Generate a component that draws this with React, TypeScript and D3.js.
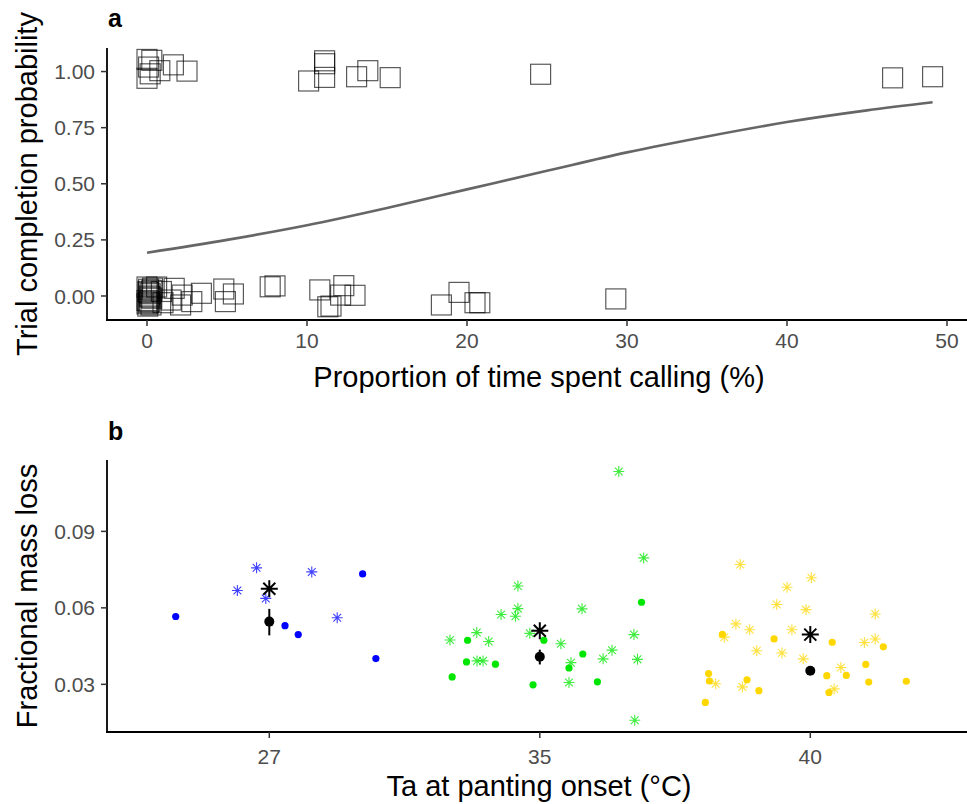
import * as d3 from "d3";
import React from "react";

// panel a: trials, [proportion of time calling (%), completion (jittered)]
const completedTrials: [number, number][] = [
  [0, 1.054], [0, 0.97], [0.3, 1.05], [0.8, 1.004], [1.65, 1.03], [2.5, 1.002],
  [0.1, 1.02], [0.2, 0.99], [10.1, 0.958], [11.1, 1.048], [11.1, 1.035],
  [11.1, 0.974], [13.1, 0.977], [13.8, 1.004], [15.2, 0.973], [24.6, 0.988],
  [46.6, 0.972], [49.1, 0.977],
];
const failedTrials: [number, number][] = [
  [0, 0.04], [0.1, 0.03], [0.05, 0.02], [0.2, 0.01], [0.15, 0], [0.3, -0.01],
  [0, -0.02], [0.1, -0.03], [0.25, -0.04], [0.05, -0.045], [0.35, 0.035],
  [0.2, -0.005], [0.1, 0.015], [0, -0.035], [0.3, 0.025], [0.15, -0.025],
  [0.6, 0.04], [0.9, 0.02], [1.0, -0.03], [1.7, 0.034], [1.5, -0.018],
  [2.2, 0.004], [2.1, -0.04], [2.8, -0.025], [3.4, 0.012], [4.8, 0.031],
  [4.9, -0.025], [5.4, 0.009], [7.7, 0.041], [8.0, 0.045], [10.8, 0.027],
  [12.3, 0.046], [12.1, 0.004], [13.0, 0.003], [11.3, -0.048], [11.5, -0.045],
  [18.4, -0.04], [19.5, 0.016], [20.5, -0.03], [20.8, -0.03], [29.3, -0.013],
];
// fitted probability curve
const fitX = [0, 5, 10, 15, 20, 25, 30, 35, 40, 45, 49.1];
const fitY = [0.193, 0.25, 0.315, 0.392, 0.475, 0.558, 0.64, 0.711, 0.775, 0.827, 0.863];
const xTicksA = [0, 10, 20, 30, 40, 50];
const yTicksA = [0, 0.25, 0.5, 0.75, 1];

// panel b: [jitter within category, fractional mass loss]
const temps = ["27", "35", "40"];
const groupColors = ["#0000ff", "#00e600", "#ffd700"];
const dots27: [number, number][] = [
  [-0.346, 0.0566], [0.058, 0.053], [0.107, 0.0495], [0.345, 0.0733], [0.394, 0.0401],
];
const stars27: [number, number][] = [
  [-0.047, 0.0757], [-0.118, 0.0668], [-0.013, 0.0637], [0.157, 0.0741], [0.251, 0.0561],
];
const dots35: [number, number][] = [
  [-0.267, 0.0473], [-0.271, 0.0388], [-0.324, 0.0329], [-0.164, 0.0379], [0.015, 0.0473],
  [-0.025, 0.0298], [0.108, 0.0364], [0.159, 0.0419], [0.213, 0.031], [0.376, 0.0622],
];
const stars35: [number, number][] = [
  [-0.332, 0.0474], [-0.233, 0.0503], [-0.189, 0.0468], [-0.232, 0.0392], [-0.21, 0.0392],
  [-0.143, 0.0574], [-0.081, 0.0686], [-0.081, 0.0597], [-0.09, 0.0567], [-0.037, 0.05],
  [0.078, 0.0459], [0.115, 0.0385], [0.108, 0.0307], [0.156, 0.0596], [0.234, 0.04],
  [0.267, 0.0434], [0.348, 0.0495], [0.361, 0.0398], [0.351, 0.0159], [0.292, 0.1135],
  [0.384, 0.0796],
];
const dots40: [number, number][] = [
  [-0.325, 0.0496], [-0.376, 0.0342], [-0.373, 0.0313], [-0.388, 0.0229], [-0.234, 0.0318],
  [-0.19, 0.0275], [-0.134, 0.0478], [0.081, 0.0465], [0.061, 0.0334], [0.069, 0.0268],
  [0.133, 0.0335], [0.205, 0.0378], [0.216, 0.0309], [0.27, 0.0447], [0.355, 0.0312],
];
const stars40: [number, number][] = [
  [-0.259, 0.077], [0.004, 0.0718], [-0.086, 0.0681], [-0.124, 0.0613], [-0.016, 0.0593],
  [0.24, 0.0576], [-0.275, 0.0537], [-0.224, 0.0514], [-0.068, 0.0514], [-0.318, 0.0485],
  [0.24, 0.0478], [0.2, 0.0464], [-0.198, 0.0432], [-0.105, 0.0423], [-0.026, 0.04],
  [0.113, 0.0366], [-0.35, 0.0302], [-0.251, 0.029], [0.088, 0.0282],
];
const meanStars = [0.0675, 0.051, 0.0495];
const meanDots = [0.0546, 0.0408, 0.0353];
const meanLow = [0.0492, 0.0378, 0.0338];
const meanHigh = [0.0596, 0.0436, 0.0368];
const yTicksB = [0.03, 0.06, 0.09];

const font = "'Liberation Sans', Arial, sans-serif";
const tickColor = "#4d4d4d";

const asterisk = (r: number) =>
  `M0,${-r}V${r}M${-r},0H${r}M${-r * 0.707},${-r * 0.707}L${r * 0.707},${r * 0.707}M${-r * 0.707},${r * 0.707}L${r * 0.707},${-r * 0.707}`;

export default function App() {
  const width = 967;
  const height = 804;

  // panel a scales
  const xA = d3.scaleLinear().domain([-2.5, 51.75]).range([107, 975]);
  const yA = d3.scaleLinear().domain([-0.107, 1.105]).range([320, 48]);
  const fitLine = d3
    .line<number>()
    .x((d, i) => xA(fitX[i]))
    .y((d) => yA(d))
    .curve(d3.curveMonotoneX);

  // panel b scales
  const xB = d3.scalePoint().domain(temps).range([107, 972.6]).padding(0.6);
  const yB = d3.scaleLinear().domain([0.0113, 0.118]).range([732, 460]);
  const step = xB.step();
  const dots = [dots27, dots35, dots40];
  const stars = [stars27, stars35, stars40];

  const sq = 20;

  return (
    <div style={{ position: "absolute", left: 0, top: 0 }}>
      <svg width={width} height={height} style={{ display: "block", background: "#fff" }} fontFamily={font}>
        {/* ---------- panel a ---------- */}
        <text x={108} y={27} fontSize={25} fontWeight="bold">a</text>
        {[...completedTrials, ...failedTrials].map((d, i) => (
          <rect
            key={"s" + i}
            x={xA(d[0]) - sq / 2}
            y={yA(d[1]) - sq / 2}
            width={sq}
            height={sq}
            fill="none"
            stroke="#000"
            strokeOpacity={0.65}
            strokeWidth={1.2}
          />
        ))}
        <path d={fitLine(fitY) || ""} fill="none" stroke="#666" strokeWidth={2.6} />
        <line x1={107} x2={107} y1={48} y2={321} stroke="#000" strokeWidth={1.8} />
        <line x1={106} x2={975} y1={320} y2={320} stroke="#000" strokeWidth={1.8} />
        {yTicksA.map((t) => (
          <g key={"ya" + t}>
            <line x1={101} x2={107} y1={yA(t)} y2={yA(t)} stroke="#333" strokeWidth={1.5} />
            <text x={95} y={yA(t)} dy="0.36em" textAnchor="end" fontSize={21} fill={tickColor}>
              {d3.format(".2f")(t)}
            </text>
          </g>
        ))}
        {xTicksA.map((t) => (
          <g key={"xa" + t}>
            <line x1={xA(t)} x2={xA(t)} y1={320} y2={326} stroke="#333" strokeWidth={1.5} />
            <text x={xA(t)} y={348} textAnchor="middle" fontSize={21} fill={tickColor}>{t}</text>
          </g>
        ))}
        <text x={539} y={387} textAnchor="middle" fontSize={29}>Proportion of time spent calling (%)</text>
        <text transform="translate(37,184) rotate(-90)" textAnchor="middle" fontSize={29}>
          Trial completion probability
        </text>

        {/* ---------- panel b ---------- */}
        <text x={108} y={440} fontSize={25} fontWeight="bold">b</text>
        {temps.map((c, g) => (
          <g key={"grp" + c}>
            {stars[g].map((d, i) => (
              <path
                key={"st" + i}
                d={asterisk(5.5)}
                transform={`translate(${(xB(c) as number) + d[0] * step},${yB(d[1])})`}
                stroke={groupColors[g]}
                strokeOpacity={0.75}
                strokeWidth={1.1}
                fill="none"
              />
            ))}
            {dots[g].map((d, i) => (
              <circle
                key={"dt" + i}
                cx={(xB(c) as number) + d[0] * step}
                cy={yB(d[1])}
                r={3.6}
                fill={groupColors[g]}
              />
            ))}
          </g>
        ))}
        {temps.map((c, g) => (
          <g key={"mean" + c}>
            <line
              x1={xB(c) as number}
              x2={xB(c) as number}
              y1={yB(meanLow[g])}
              y2={yB(meanHigh[g])}
              stroke="#000"
              strokeWidth={2}
            />
            <circle cx={xB(c) as number} cy={yB(meanDots[g])} r={5} fill="#000" />
            <path
              d={asterisk(8.5)}
              transform={`translate(${xB(c) as number},${yB(meanStars[g])})`}
              stroke="#000"
              strokeWidth={2}
              fill="none"
            />
          </g>
        ))}
        <line x1={107} x2={107} y1={460} y2={733} stroke="#000" strokeWidth={1.8} />
        <line x1={106} x2={975} y1={732} y2={732} stroke="#000" strokeWidth={1.8} />
        {yTicksB.map((t) => (
          <g key={"yb" + t}>
            <line x1={101} x2={107} y1={yB(t)} y2={yB(t)} stroke="#333" strokeWidth={1.5} />
            <text x={95} y={yB(t)} dy="0.36em" textAnchor="end" fontSize={21} fill={tickColor}>
              {d3.format(".2f")(t)}
            </text>
          </g>
        ))}
        {temps.map((c) => (
          <g key={"xb" + c}>
            <line x1={xB(c) as number} x2={xB(c) as number} y1={732} y2={738} stroke="#333" strokeWidth={1.5} />
            <text x={xB(c) as number} y={764} textAnchor="middle" fontSize={21} fill={tickColor}>{c}</text>
          </g>
        ))}
        <text x={539} y={796} textAnchor="middle" fontSize={29}>Ta at panting onset (°C)</text>
        <text transform="translate(37,596) rotate(-90)" textAnchor="middle" fontSize={29}>
          Fractional mass loss
        </text>
      </svg>
    </div>
  );
}
